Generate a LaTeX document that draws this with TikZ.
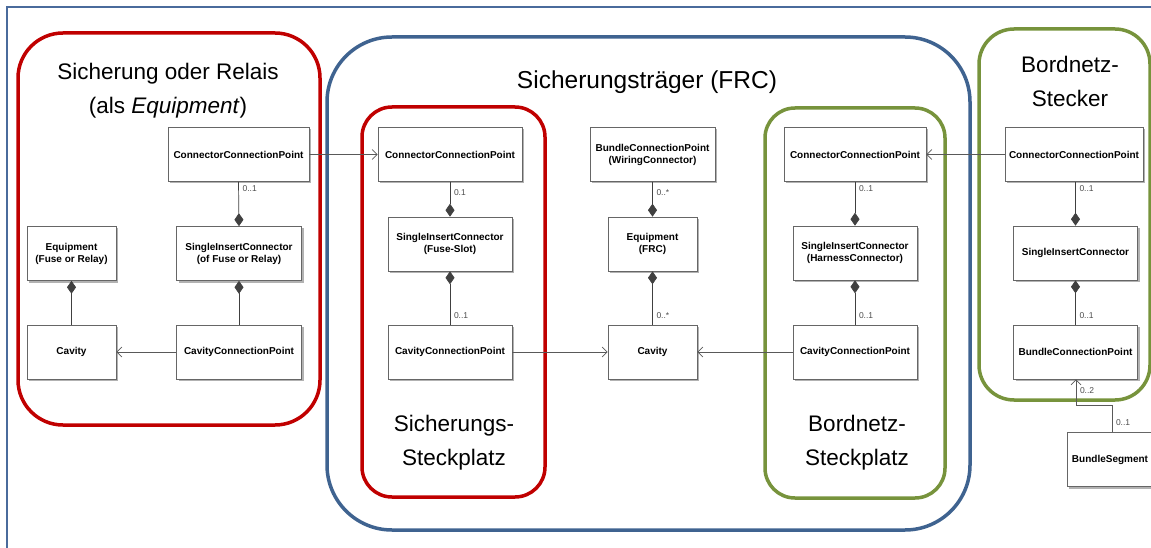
\documentclass[tikz,border=0pt]{standalone}
\usepackage{fontspec}
\setmainfont{Liberation Sans}
\usepackage{tikz}
\usetikzlibrary{arrows.meta}
\usetikzlibrary{shadows}
\definecolor{fusered}{HTML}{C00000}
\definecolor{frcblue}{HTML}{3F6390}
\definecolor{harnessgreen}{HTML}{77933C}
\definecolor{framecol}{HTML}{4A6B9C}
\tikzstyle{umlclass}=[draw=black!60, fill=white, line width=0.6pt, inner sep=2pt, minimum height=54pt, align=center,
                      font=\bfseries\fontsize{10}{12}\selectfont,
                      % grey shadow at the lower right
                      drop shadow={shadow xshift=2pt, shadow yshift=-2pt, fill=black!30, opacity=1}]
\tikzstyle{mult}=[font=\fontsize{8.5}{10}\selectfont, text=black!70, inner sep=1pt, outer xsep=3pt]
\tikzstyle{comp}=[draw=black!75, line width=0.7pt, -{Diamond[length=13pt, width=9pt]}]
\tikzstyle{assoc}=[draw=black!65, line width=0.7pt, -{Straight Barb[length=5pt, width=10pt]}]
\tikzstyle{grouptitle}=[font=\fontsize{22.5}{34}\selectfont, align=center, inner sep=0]
\tikzstyle{groupframe}=[line width=3.5pt]

\begin{document}
\begin{tikzpicture}[x=1pt, y=-1pt]
        \useasboundingbox (0,0) rectangle (1151,548);
        \draw[framecol, line width=1.2pt] (7,548) -- (7,7) -- (1151,7);
        % groups
        \draw[groupframe, fusered, rounded corners=45pt] (18,33) rectangle (320,425);
        \draw[groupframe, frcblue, rounded corners=65pt] (327,37) rectangle (970,530);
        \draw[groupframe, fusered, rounded corners=30pt] (362,107) rectangle (545,497);
        \draw[groupframe, harnessgreen, rounded corners=30pt] (765,108) rectangle (945,498);
        \draw[groupframe, harnessgreen, rounded corners=35pt] (979,29) rectangle (1150,400);
        \node[grouptitle] (relaistitle) at (168,91) {Sicherung oder Relais\\(als \textit{Equipment})};
        \node[grouptitle, font=\fontsize{24.5}{30}\selectfont] (frctitle) at (647,82) {Sicherungsträger (FRC)};
        \node[grouptitle] (steckertitle) at (1070,81) {Bordnetz-\\Stecker};
        \node[grouptitle] (fuseslottitle) at (454,443) {Sicherungs-\\Steckplatz};
        \node[grouptitle] (harnessslottitle) at (857,443) {Bordnetz-\\Steckplatz};

        % fuse or relay
        \node[umlclass, minimum width=141pt] (ccpA) at (238.5,154.5) {ConnectorConnectionPoint};
        \node[umlclass, minimum width=125pt] (sicA) at (239,253.5) {SingleInsertConnector\\(of Fuse or Relay)};
        \node[umlclass, minimum width=89pt] (eqA) at (71.5,253.5) {Equipment\\(Fuse or Relay)};
        \node[umlclass, minimum width=89pt] (cavA) at (71.5,352) {Cavity};
        \node[umlclass, minimum width=125pt] (cavcpA) at (239,352) {CavityConnectionPoint};
        \draw[comp] (ccpA.south) -- node[mult, pos=0.15, right] {0..1} (sicA.north);
        \draw[comp] (cavcpA.north) -- (sicA.south);
        \draw[comp] (cavA.north) -- (eqA.south);
        \draw[assoc] (cavcpA.west) -- (cavA.east);

        % fuse slot
        \node[umlclass, minimum width=144pt] (ccpB) at (450,154.5) {ConnectorConnectionPoint};
        \node[umlclass, minimum width=124pt] (sicB) at (450,244) {SingleInsertConnector\\(Fuse-Slot)};
        \node[umlclass, minimum width=124pt] (cavcpB) at (450,352) {CavityConnectionPoint};
        \draw[comp] (ccpB.south) -- node[mult, pos=0.3, right] {0.1} (sicB.north);
        \draw[comp] (cavcpB.north) -- node[mult, pos=0.17, right] {0..1} (sicB.south);
        \draw[assoc] (ccpA.east) -- (ccpB.west);

        % FRC
        \node[umlclass, minimum width=125pt] (bcpB) at (652.5,154.5) {BundleConnectionPoint\\(WiringConnector)};
        \node[umlclass, minimum width=89pt] (eqB) at (652.5,244) {Equipment\\(FRC)};
        \node[umlclass, minimum width=89pt] (cavB) at (652.5,352) {Cavity};
        \draw[comp] (bcpB.south) -- node[mult, pos=0.3, right] {0..*} (eqB.north);
        \draw[comp] (cavB.north) -- node[mult, pos=0.17, right] {0..*} (eqB.south);
        \draw[assoc] (cavcpB.east) -- (cavB.west);

        % harness slot
        \node[umlclass, minimum width=142pt] (ccpC) at (855,154.5) {ConnectorConnectionPoint};
        \node[umlclass, minimum width=124pt] (sicC) at (855,253) {SingleInsertConnector\\(HarnessConnector)};
        \node[umlclass, minimum width=124pt] (cavcpC) at (855,352) {CavityConnectionPoint};
        \draw[comp] (ccpC.south) -- node[mult, pos=0.15, right] {0..1} (sicC.north);
        \draw[comp] (cavcpC.north) -- node[mult, pos=0.2, right] {0..1} (sicC.south);
        \draw[assoc] (cavcpC.west) -- (cavB.east);

        % harness connector
        \node[umlclass, minimum width=138pt] (ccpD) at (1074,154.5) {ConnectorConnectionPoint};
        \node[umlclass, minimum width=124pt] (sicD) at (1075.5,253) {SingleInsertConnector};
        \node[umlclass, minimum width=124pt] (bcpD) at (1075.5,352) {BundleConnectionPoint};
        \node[umlclass, minimum width=86pt] (segD) at (1110,459.5) {BundleSegment};
        \draw[comp] (sicD.north |- ccpD.south) -- node[mult, pos=0.15, right] {0..1} (sicD.north);
        \draw[comp] (bcpD.north) -- node[mult, pos=0.2, right] {0..1} (sicD.south);
        \draw[assoc] (ccpD.west) -- (ccpC.east);
        \coordinate (segbend) at (1112,405);
        \coordinate (bcpbend) at (1076,405);
        \draw[assoc] (segbend |- segD.north) -- node[mult, pos=0.35, right] {0..1} (segbend) -- (bcpbend)
              -- node[mult, pos=0.55, right] {0..2} (bcpbend |- bcpD.south);
\end{tikzpicture}
\end{document}
